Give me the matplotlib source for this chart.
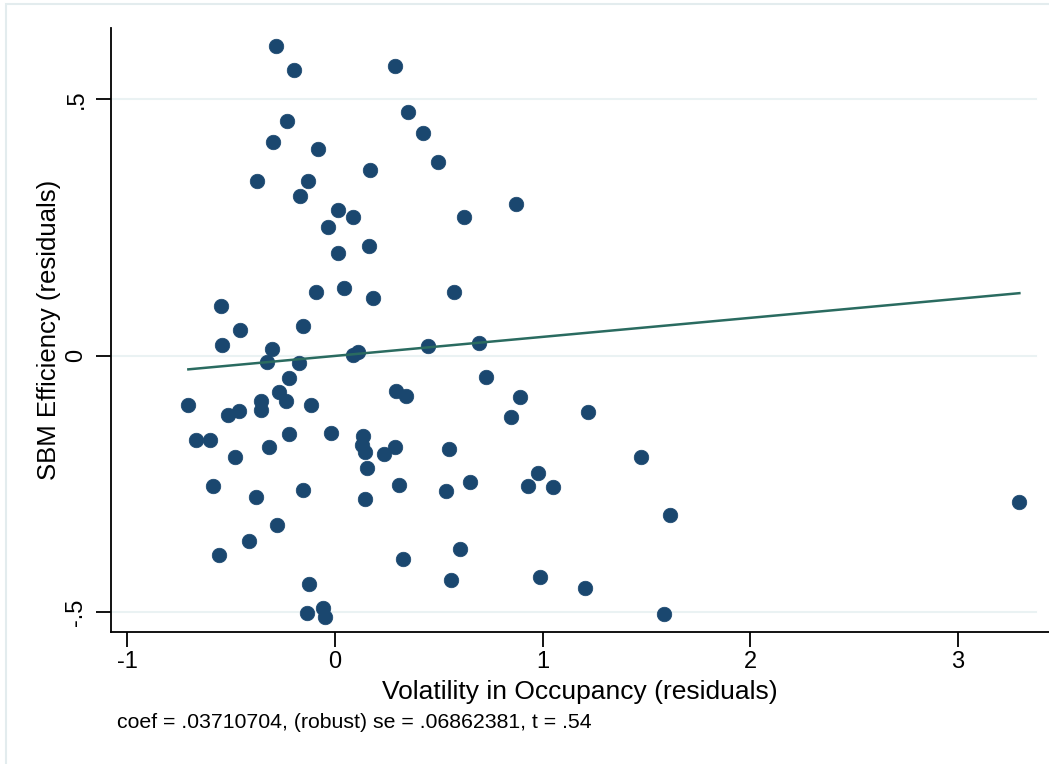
import numpy as np
import matplotlib
matplotlib.use("Agg")
import matplotlib.pyplot as plt
from matplotlib.patches import Rectangle

plt.rcParams['font.family'] = ['Liberation Sans', 'DejaVu Sans']

# residuals
x_res = [-0.283, -0.197, 0.290, 0.353, 0.424, 0.497, -0.230, -0.297, -0.080, 0.170,
         -0.377, -0.128, -0.167, 0.014, 0.085, -0.034, 0.014, 0.162, -0.090, 0.043,
         0.185, 0.573, -0.548, -0.456, -0.153, -0.544, -0.305, 0.109, 0.088, 0.446,
         0.872, 0.623, 0.692, -0.328, -0.171, -0.222, -0.706, -0.515, -0.460, -0.358,
         -0.355, -0.270, -0.237, -0.117, 0.294, 0.342, -0.669, -0.600, -0.481, -0.318,
         -0.223, -0.017, 0.136, 0.130, 0.144, 0.237, 0.289, 0.152, 0.548, -0.589,
         -0.379, -0.153, 0.144, 0.310, 0.534, -0.279, -0.414, -0.557, 0.327, 0.559,
         -0.125, -0.135, -0.058, -0.048, 0.728, 0.892, 0.846, 1.217, 1.471, 0.976,
         0.928, 1.050, 0.650, 1.614, 0.602, 0.987, 1.204, 1.585, 3.295]
y_res = [0.604, 0.557, 0.565, 0.475, 0.434, 0.377, 0.457, 0.416, 0.403, 0.363,
         0.341, 0.341, 0.311, 0.284, 0.270, 0.252, 0.200, 0.214, 0.124, 0.133,
         0.112, 0.125, 0.098, 0.050, 0.058, 0.021, 0.014, 0.008, 0.001, 0.020,
         0.297, 0.271, 0.025, -0.011, -0.014, -0.043, -0.095, -0.115, -0.107, -0.088,
         -0.106, -0.071, -0.088, -0.095, -0.069, -0.078, -0.164, -0.164, -0.197, -0.178,
         -0.152, -0.150, -0.157, -0.173, -0.188, -0.191, -0.178, -0.218, -0.182, -0.254,
         -0.274, -0.262, -0.279, -0.252, -0.264, -0.329, -0.360, -0.388, -0.395, -0.436,
         -0.444, -0.501, -0.492, -0.509, -0.041, -0.080, -0.119, -0.109, -0.197, -0.229,
         -0.254, -0.256, -0.246, -0.310, -0.376, -0.431, -0.452, -0.503, -0.285]

# added-variable fit: both variables are residuals, so intercept is zero
coef = 0.03710704
intercept = 0.0
note = 'coef = .03710704, (robust) se = .06862381, t = .54'

x_ticks = [-1, 0, 1, 2, 3]
y_ticks = [-0.5, 0, 0.5]
y_ticklabels = ['-.5', '0', '.5']

fig = plt.figure(figsize=(10.49, 7.64), dpi=100)
# faint graph region frame
fig.patches.append(Rectangle((6 / 1049, -0.05), 1.2, 1 - 3.5 / 764 + 0.05,
                             transform=fig.transFigure, fill=False,
                             edgecolor='#e3ecee', linewidth=1.5))

ax = fig.add_axes([111 / 1049, 1 - 632 / 764, 1 - 111 / 1049, (632 - 28) / 764])
ax.set_xlim((111 - 335) / 207.7, (1049 - 335) / 207.7)
ax.set_ylim(-0.538, 0.639)

for yt in y_ticks:
    ax.axhline(yt, xmin=0, xmax=0.986, color='#eaf2f3', linewidth=1.5, zorder=0)

ax.scatter(x_res, y_res, s=110, color='#1a476f', edgecolors='#1a476f',
           linewidths=0.5, zorder=3)

xs = np.array([min(x_res), max(x_res)])
ax.plot(xs, intercept + coef * xs, color='#2a6b60', linewidth=1.8, zorder=4)

for side in ['top', 'right']:
    ax.spines[side].set_visible(False)
for side in ['left', 'bottom']:
    ax.spines[side].set_linewidth(1.3)

ax.set_xticks(x_ticks)
ax.set_xticklabels([str(v) for v in x_ticks], fontsize=17)
ax.set_yticks(y_ticks)
ax.set_yticklabels(y_ticklabels, fontsize=17, rotation=90, va='center')
ax.tick_params(direction='out', length=11, width=1.3)
ax.tick_params(axis='x', pad=3)
ax.tick_params(axis='y', pad=6)

ax.set_xlabel('Volatility in Occupancy (residuals)', fontsize=19, labelpad=5)
ax.set_ylabel('SBM Efficiency (residuals)', fontsize=18.5, labelpad=3)

fig.text(117 / 1049, 1 - 722 / 764, note, fontsize=15.3, va='center', ha='left')

fig.savefig('out.png', dpi=100)
